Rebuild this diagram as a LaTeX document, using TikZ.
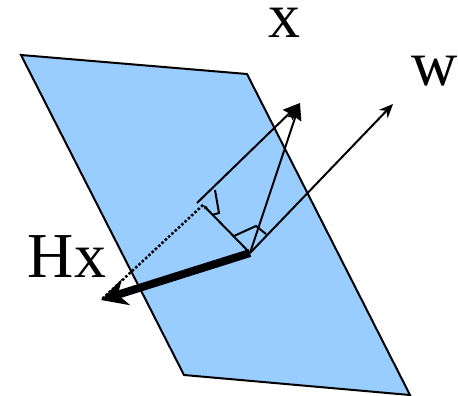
\documentclass[tikz,border=0pt]{standalone}
\usepackage{fontspec}
\usetikzlibrary{arrows.meta}
\setmainfont{Liberation Serif}
\definecolor{planeblue}{HTML}{99CCFF}
\tikzset{
  plabel/.style={inner sep=0pt,font=\fontsize{64}{64}\selectfont},
  vecline/.style={line width=2pt},
}
\begin{document}
\begin{tikzpicture}[x=1pt,y=-1pt,>=stealth]
 \useasboundingbox (0,0) rectangle (458,396);
 \coordinate (pa) at (21,55);
 \coordinate (pb) at (247,74);
 \coordinate (pc) at (410,395);
 \coordinate (pd) at (184,375);
 \coordinate (orig) at (250,253);
 \coordinate (wtip) at (393,104);
 \coordinate (xtip) at (300,103);
 \coordinate (foot) at (203,205);
 \coordinate (base) at (197,203);
 \coordinate (hxtip) at (101,300);
 \filldraw[fill=planeblue,line width=2pt] (pa)--(pb)--(pc)--(pd)--cycle;
 \draw[vecline,-{Stealth[length=14pt,width=12pt]}] (orig)--(wtip);
 \draw[vecline,-{Stealth[length=17pt,width=14pt,inset=2pt]}] (orig)--(xtip);
 \draw[vecline,-{Stealth[length=17pt,width=14pt,inset=2pt]}] (base)--(xtip);
 \draw[vecline,-{Stealth[length=5pt,width=4pt]}] (orig)--(foot);
 \draw[line width=2.5pt,dotted] (foot)--(hxtip);
 \draw[line width=8pt,-{Stealth[length=26pt,width=27pt]}] (orig)--(hxtip);
 \draw[vecline] (215,190)--(219,213)--(212,215);
 \draw[vecline] (234,236)--(256,226)--(266,234);
 \node[plabel,anchor=base] (xlabel) at (284,38) {x};
 \node[plabel,anchor=base] (wlabel) at (435,85) {w};
 \node[plabel,anchor=base] (hxlabel) at (67,277) {Hx};
\end{tikzpicture}
\end{document}
